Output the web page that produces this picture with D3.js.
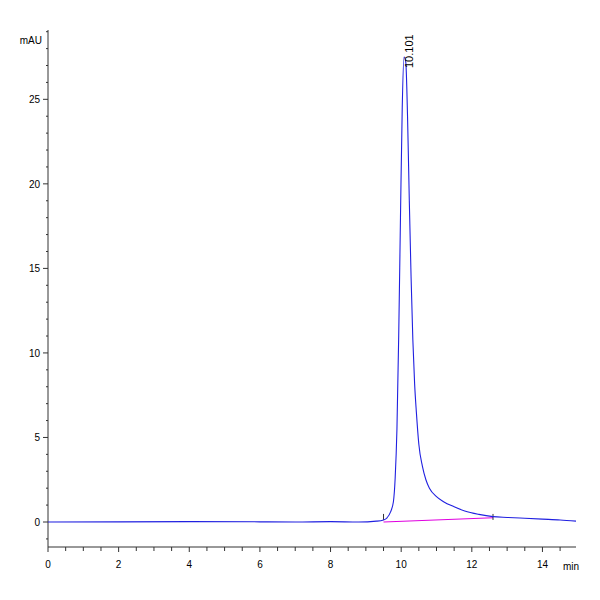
<!DOCTYPE html><html><head><meta charset="utf-8"><script src="https://cdn.jsdelivr.net/npm/d3@7"></script>
<style>body{margin:0;background:#fff}text{font-family:"Liberation Sans",Arial,sans-serif}</style></head><body><svg width="600" height="600"></svg><script>
const times=[0,2,4,6,7,8,8.8,9.3,9.5,9.6,9.7,9.78,9.83,9.88,9.93,9.98,10.03,10.08,10.13,10.18,10.23,10.28,10.33,10.38,10.43,10.5,10.6,10.7,10.8,11.0,11.2,11.5,11.8,12.2,12.6,13.0,13.5,14.0,14.5,14.95];
const signal=[0,0.01,0.02,0.01,0.0,0.02,0.0,0.05,0.12,0.25,0.6,1.2,2.6,5.5,11,18,24.5,27.5,27.2,24,19,14.5,10.8,8.2,6.5,4.6,3.3,2.5,2.0,1.5,1.2,0.9,0.65,0.45,0.32,0.27,0.22,0.17,0.12,0.05];
const baseT=[9.5,12.6], baseV=[0.0,0.25];
const xTicks=[0,2,4,6,8,10,12,14], yTicks=[0,5,10,15,20,25];
const peakLabel="10.101", peakT=10.101;
const svg=d3.select("svg");
const x=d3.scaleLinear().domain([0,14.95]).range([48,576]);
const y=d3.scaleLinear().domain([0,29.1]).range([522,30]);
const gx=svg.append("g").attr("transform","translate(0,547)");
gx.append("line").attr("x1",48).attr("x2",576).attr("stroke","#333");
gx.selectAll(".mt").data(d3.range(0,15,0.5)).join("line").attr("x1",d=>x(d)).attr("x2",d=>x(d)).attr("y1",0).attr("y2",d=>d%2===0?5:4).attr("stroke","#333");
gx.selectAll("text").data(xTicks).join("text").attr("x",d=>x(d)).attr("y",21).attr("text-anchor","middle").attr("font-size",10).text(d=>d);
gx.append("text").attr("x",563).attr("y",23).attr("font-size",10).text("min");
const gy=svg.append("g").attr("transform","translate(48,0)");
gy.append("line").attr("y1",30).attr("y2",547).attr("stroke","#333");
gy.selectAll(".mt").data(d3.range(-1,30,1)).join("line").attr("y1",d=>y(d)).attr("y2",d=>y(d)).attr("x1",d=>d%5===0?-5:-2).attr("x2",0).attr("stroke","#333");
gy.selectAll("text").data(yTicks).join("text").attr("x",-8).attr("y",d=>y(d)+4).attr("text-anchor","end").attr("font-size",10).text(d=>d);
gy.append("text").attr("x",-6).attr("y",44).attr("text-anchor","end").attr("font-size",10).text("mAU");
svg.append("path").datum(baseT.map((t,i)=>[t,baseV[i]])).attr("d",d3.line().x(d=>x(d[0])).y(d=>y(d[1]))).attr("stroke","#e000e0").attr("fill","none").attr("stroke-width",1.2);
baseT.forEach(t=>svg.append("line").attr("x1",x(t)).attr("x2",x(t)).attr("y1",y(0.3)-3).attr("y2",y(0.3)+3).attr("stroke","#333"));
svg.append("path").datum(times.map((t,i)=>[t,signal[i]])).attr("d",d3.line().curve(d3.curveMonotoneX).x(d=>x(d[0])).y(d=>y(d[1]))).attr("stroke","#2020e0").attr("fill","none").attr("stroke-width",1.1);
svg.append("text").attr("transform",`translate(${x(peakT)+8},68) rotate(-90)`).attr("font-size",11).text(peakLabel);
</script></body></html>
